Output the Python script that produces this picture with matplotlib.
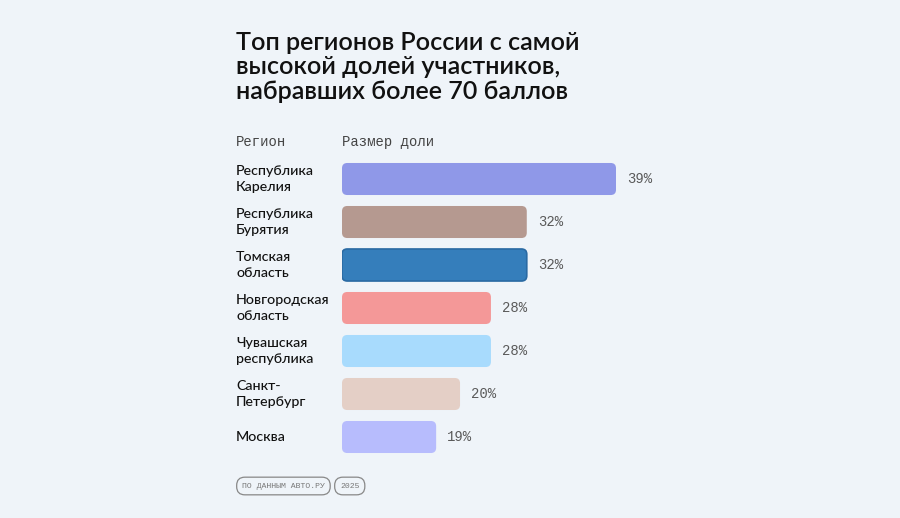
import matplotlib.pyplot as plt
from matplotlib.patches import FancyBboxPatch
from matplotlib.transforms import blended_transform_factory

regions = ["Республика\nКарелия", "Республика\nБурятия", "Томская\nобласть",
           "Новгородская\nобласть", "Чувашская\nреспублика", "Санкт-\nПетербург", "Москва"]
shares = [39, 32, 32, 28, 28, 20, 19]
# bar lengths as drawn in the source picture (same units, not strictly proportional)
bar_len = [39, 26.3, 26.3, 21.2, 21.2, 16.8, 13.4]
colors = ["#8f98e8", "#b59990", "#357ebb", "#f49898", "#a8dbfd", "#e4cfc6", "#b7bcfd"]
edges = ["none", "none", "#2a6aa3", "none", "none", "none", "none"]

bg = "#eff4f9"
W, H = 900, 518
fig = plt.figure(figsize=(9, 5.18), dpi=100, facecolor=bg)

# axes placed in pixels
ax_l, ax_w, ax_top, ax_bot = 342, 400, 157.5, 458.5
ax = fig.add_axes([ax_l / W, 1 - ax_bot / H, ax_w / W, (ax_bot - ax_top) / H])
ax.set_facecolor("none")
xmax = 39 * ax_w / 274
ax.set_xlim(0, xmax)
ax.set_ylim(6.5, -0.5)
ax.axis("off")

ypos = list(range(len(regions)))
bars = ax.barh(ypos, bar_len, height=0.745, color=colors)
aspect = (1 / 43) / (xmax / ax_w)
for b, ec in zip(bars, edges):
    b.set_visible(False)
    p = FancyBboxPatch((b.get_x(), b.get_y()), b.get_width(), b.get_height(),
                       boxstyle="round,pad=0,rounding_size=0.75", mutation_aspect=aspect,
                       facecolor=b.get_facecolor(), edgecolor=ec, linewidth=1.2)
    ax.add_patch(p)

mono = "Liberation Mono"
sans = "Lato"
for y, L, s in zip(ypos, bar_len, shares):
    ax.text(L + 11 * xmax / ax_w, y, f"{s}%", va="center", ha="left",
            fontsize=10, family=mono, color="#5a5a5a")

tr = blended_transform_factory(fig.transFigure, ax.transData)
for y, r in zip(ypos, regions):
    ax.text(236 / W, y, r, transform=tr, va="center", ha="left", fontsize=10.3,
            family=sans, weight="medium", color="#111111", linespacing=1.4)

fig.text(236 / W, 1 - 67 / H, "Топ регионов России с самой\nвысокой долей участников,\nнабравших более 70 баллов",
         va="center", ha="left", fontsize=18.1, family=sans, weight="semibold", color="#111111",
         linespacing=1.1)

fig.text(236 / W, 1 - 142 / H, "Регион", va="center", ha="left", fontsize=10, family=mono, color="#444444")
fig.text(342 / W, 1 - 142 / H, "Размер доли", va="center", ha="left", fontsize=10, family=mono, color="#444444")

fig.text(242 / W, 1 - 486 / H, "ПО ДАННЫМ АВТО.РУ", va="center", ha="left", fontsize=5.9, family=mono,
         color="#777777", bbox=dict(boxstyle="round,pad=0.65,rounding_size=1.0", fc="none", ec="#888888", lw=0.9))
fig.text(340 / W, 1 - 486 / H, "2025", va="center", ha="left", fontsize=5.9, family=mono,
         color="#777777", bbox=dict(boxstyle="round,pad=0.65,rounding_size=1.0", fc="none", ec="#888888", lw=0.9))

fig.savefig("out.png", dpi=100, facecolor=bg)
